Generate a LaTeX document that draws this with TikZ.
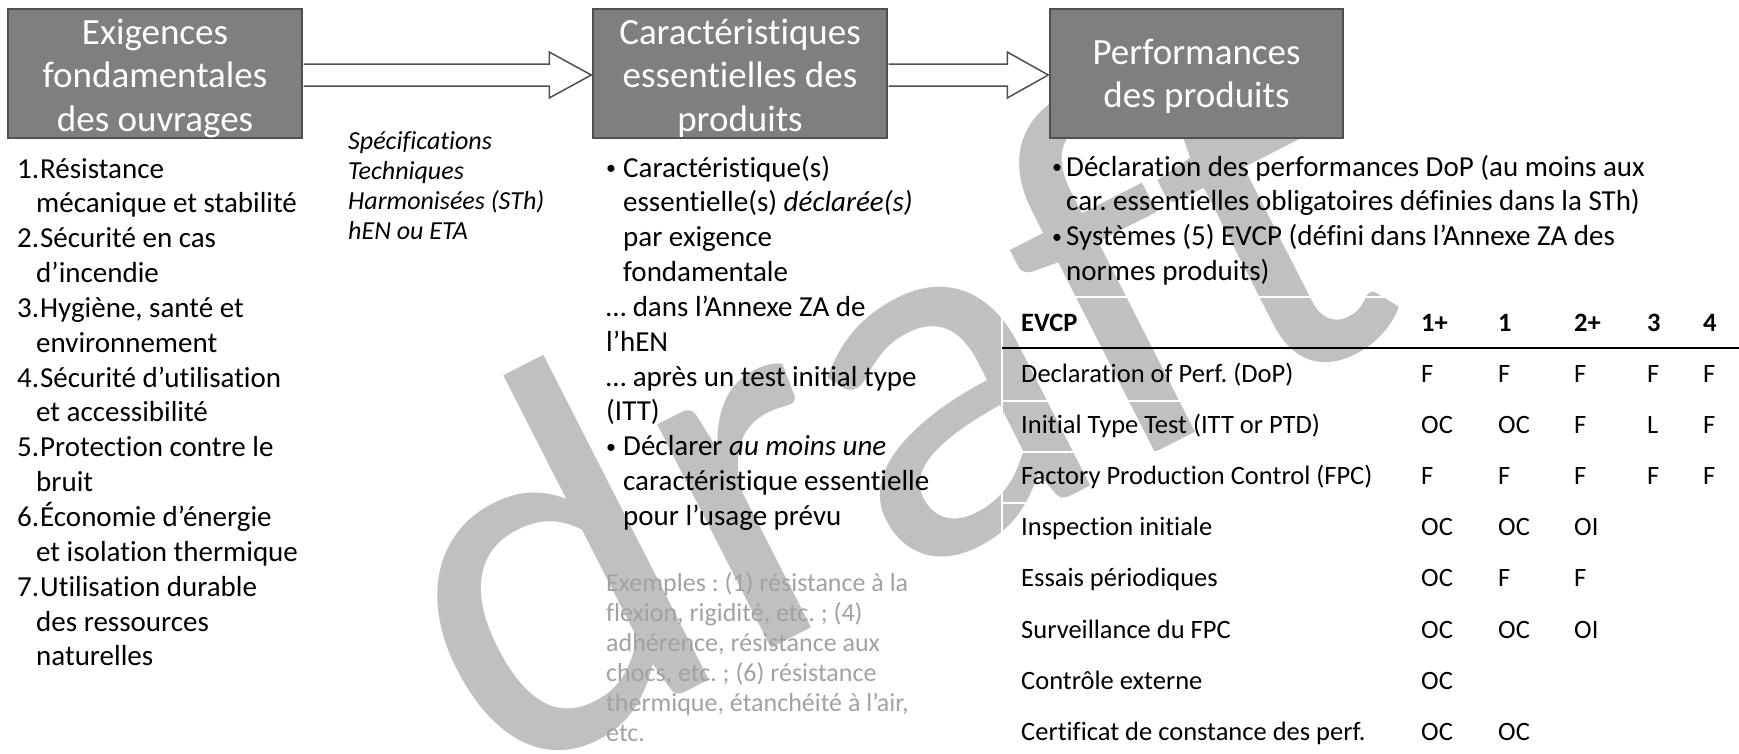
\documentclass[tikz,border=0pt]{standalone}
\usepackage{fontspec}
\setmainfont{Carlito}[Ligatures={NoCommon}]
\usetikzlibrary{calc}
\definecolor{boxfill}{RGB}{127,127,127}
\definecolor{boxline}{RGB}{80,80,80}
\definecolor{arrowline}{RGB}{80,80,80}
\definecolor{wmark}{RGB}{192,192,192}
\definecolor{exgray}{RGB}{162,162,162}
\frenchspacing
\newcommand{\smbul}[1]{\makebox[#1][l]{\fontsize{20}{20}\selectfont\raisebox{2.5pt}{•}}}
\begin{document}
\begin{tikzpicture}[x=1pt,y=-1pt,
  titlebox/.style={draw=boxline, line width=1.5pt, fill=boxfill, minimum width=294pt, minimum height=129pt, inner sep=0pt},
  boxtxt/.style={text=white, font=\fontsize{37}{43.5}\selectfont, align=center, inner sep=0pt, anchor=base},
  bodytxt/.style={font=\fontsize{29}{34.85}\selectfont, align=left, inner sep=0pt, anchor=base west},
  sidetxt/.style={font=\fontsize{26}{30}\selectfont\itshape, align=left, inner sep=0pt, anchor=base west},
  extxt/.style={font=\fontsize{26}{30}\selectfont, text=exgray, align=left, inner sep=0pt, anchor=base west},
  blockarrow/.style={draw=arrowline, line width=1.5pt, fill=white, line join=miter},
  cellt/.style={font=\fontsize{26.5}{30}\selectfont, inner sep=0pt, anchor=base west},
  hcellt/.style={font=\fontsize{26.5}{30}\selectfont\bfseries, inner sep=0pt, anchor=base west},
  wline/.style={draw=white, line width=2pt},
  wmk/.style={text=wmark, font=\fontsize{525}{525}\selectfont, rotate=27, anchor=base west, inner sep=0pt}
]
\useasboundingbox (0,0) rectangle (1739,753);
\fill[white] (0,0) rectangle (1739,753);
% watermark
\begin{scope}
\clip (0,0) rectangle (1739,753);
\node[wmk] (wm) at (496,789) {draft};
\end{scope}
% white table cell borders over watermark
\foreach \yy in {297,401,452,503,555,606,658,709}
  \draw[wline] (1002,\yy) -- (1739,\yy);
\draw[wline] (1002,297) -- (1002,753);
% boxes
\node[titlebox] (b1) at (155,73.5) {};
\node[titlebox] (b2) at (740,73.5) {};
\node[titlebox, minimum width=293pt] (b3) at (1196.5,73.5) {};
% multi-line nodes: base anchor = baseline of the last line
\node[boxtxt] (b1t) at (155,131) {Exigences\\fondamentales\\des ouvrages};
\node[boxtxt] (b2t) at (740,131) {Caractéristiques\\essentielles des\\produits};
\node[boxtxt] (b3t) at (1196.5,107.5) {Performances\\des produits};
% block arrows
\draw[blockarrow] ($(b1.east)+(0.75,-9.5)$) -- ($(b2.west)+(-43,-9.5)$) -- ($(b2.west)+(-43,-21.5)$)
  -- ($(b2.west)+(-1,1.5)$) -- ($(b2.west)+(-43,24.5)$) -- ($(b2.west)+(-43,12.5)$) -- ($(b1.east)+(0.75,12.5)$);
\draw[blockarrow] ($(b2.east)+(0.75,-9.5)$) -- ($(b3.west)+(-42,-9.5)$) -- ($(b3.west)+(-42,-21.5)$)
  -- ($(b3.west)+(-1,1.5)$) -- ($(b3.west)+(-42,24.5)$) -- ($(b3.west)+(-42,12.5)$) -- ($(b2.east)+(0.75,12.5)$);
% left list (15 lines, first baseline 178)
\node[bodytxt] (req) at (17,665.9) {%
\makebox[23pt][l]{1.}Résistance\\
\hspace*{19pt}mécanique et stabilité\\
\makebox[23pt][l]{2.}Sécurité en cas\\
\hspace*{19pt}d’incendie\\
\makebox[23pt][l]{3.}Hygiène, santé et\\
\hspace*{19pt}environnement\\
\makebox[23pt][l]{4.}Sécurité d’utilisation\\
\hspace*{19pt}et accessibilité\\
\makebox[23pt][l]{5.}Protection contre le\\
\hspace*{19pt}bruit\\
\makebox[23pt][l]{6.}Économie d’énergie\\
\hspace*{19pt}et isolation thermique\\
\makebox[23pt][l]{7.}Utilisation durable\\
\hspace*{19pt}des ressources\\
\hspace*{19pt}naturelles};
% specifications (4 lines, first baseline 149)
\node[sidetxt] (spec) at (348,239) {Spécifications\\Techniques\\Harmonisées (STh)\\hEN ou ETA};
% middle column (11 lines, first baseline 177)
\node[bodytxt] (car) at (606,525.5) {%
\smbul{17pt}Caractéristique(s)\\
\hspace*{17pt}essentielle(s) \textit{déclarée(s)}\\
\hspace*{17pt}par exigence\\
\hspace*{17pt}fondamentale\\
… dans l’Annexe ZA de\\
l’hEN\\
… après un test initial type\\
(ITT)\\
\smbul{17pt}Déclarer \textit{au moins une}\\
\hspace*{17pt}caractéristique essentielle\\
\hspace*{17pt}pour l’usage prévu};
% examples (6 lines, first baseline 591)
\node[extxt] (ex) at (606,741) {Exemples : (1) résistance à la\\
flexion, rigidité, etc. ; (4)\\
adhérence, résistance aux\\
chocs, etc. ; (6) résistance\\
thermique, étanchéité à l’air,\\
etc.};
% right column (4 lines, first baseline 176)
\node[bodytxt] (perf) at (1052,280.55) {%
\smbul{14pt}Déclaration des performances DoP (au moins aux\\
\hspace*{14pt}car. essentielles obligatoires définies dans la STh)\\
\smbul{14pt}Systèmes (5) EVCP (défini dans l’Annexe ZA des\\
\hspace*{14pt}normes produits)};
% table
\node[hcellt] (h0) at (1021,331) {EVCP};
\node[hcellt] (h1) at (1421,331) {1+};
\node[hcellt] (h2) at (1498,331) {1};
\node[hcellt] (h3) at (1574,331) {2+};
\node[hcellt] (h4) at (1647,331) {3};
\node[hcellt] (h5) at (1703,331) {4};
\draw[line width=2pt] (1002,348) -- (1739,348);
\foreach \lbl/\va/\vb/\vc/\vd/\ve [count=\i] in {
 Declaration of Perf. (DoP)/F/F/F/F/F,
 Initial Type Test (ITT or PTD)/OC/OC/F/L/F,
 Factory Production Control (FPC)/F/F/F/F/F,
 Inspection initiale/OC/OC/OI//,
 Essais périodiques/OC/F/F//,
 Surveillance du FPC/OC/OC/OI//,
 Contrôle externe/OC////,
 Certificat de constance des perf./OC/OC///}
{
  \pgfmathsetmacro\yb{382+(\i-1)*51.2}
  \node[cellt] (r\i) at (1021,\yb) {\lbl};
  \node[cellt] (r\i a) at (1421,\yb) {\va};
  \node[cellt] (r\i b) at (1498,\yb) {\vb};
  \node[cellt] (r\i c) at (1574,\yb) {\vc};
  \node[cellt] (r\i d) at (1647,\yb) {\vd};
  \node[cellt] (r\i e) at (1703,\yb) {\ve};
}
\end{tikzpicture}
\end{document}
